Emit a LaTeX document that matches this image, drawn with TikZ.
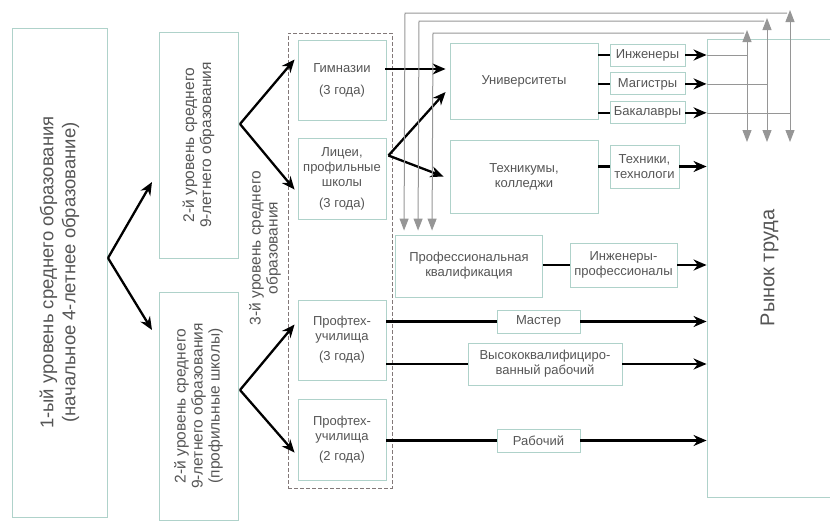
\documentclass[tikz,border=0pt]{standalone}
\usepackage{fontspec}
\setmainfont{Liberation Sans}
\usepackage{tikz}
\usetikzlibrary{arrows.meta, positioning, calc}
\definecolor{boxline}{RGB}{175,210,202}
\definecolor{txt}{RGB}{85,85,85}
\definecolor{feedgray}{RGB}{150,150,150}
\definecolor{framegray}{RGB}{130,120,120}
\tikzset{
  module/.style={rectangle, draw=boxline, line width=0.9pt, text=txt, align=center, inner sep=2pt, font=\fontsize{13}{15}\selectfont},
  levelbox/.style={module, rotate=90, font=\fontsize{15.5}{17}\selectfont},
  dashframe/.style={rectangle, draw=framegray, line width=1pt, dash pattern=on 4pt off 2pt},
  arrow/.style={line width=2.3pt, -{Stealth[length=13pt,width=11pt]}},
  stub/.style={line width=2.3pt},
  feedarrow/.style={draw=feedgray, line width=1pt, -{Triangle[length=12pt,width=9pt]}},
  feedboth/.style={draw=feedgray, line width=1pt, {Triangle[length=12pt,width=9pt]}-{Triangle[length=12pt,width=9pt]}},
  feedline/.style={draw=feedgray, line width=0.6pt}
}

\begin{document}
\begin{tikzpicture}[x=1pt, y=-1pt]
\useasboundingbox (0,0) rectangle (830,523);
% levels of school education
\node[levelbox, font=\fontsize{18.5}{22}\selectfont, minimum width=489pt, minimum height=95pt] (lev1) at (59.5,272.5) {1-ый уровень среднего образования\\(начальное 4-летнее образование)};
\node[levelbox, minimum width=226pt, minimum height=79pt] (lev2a) at (198.5,145) {2-й уровень среднего\\9-летнего образования};
\node[levelbox, minimum width=228pt, minimum height=79pt] (lev2b) at (198.5,406) {2-й уровень среднего\\9-летнего образования\\(профильные школы)};
\node[rotate=90, text=txt, align=center, font=\fontsize{15.5}{17}\selectfont] (lev3) at (265,248) {3-й уровень среднего\\образования};
\node[dashframe, minimum width=104pt, minimum height=455pt] (frm) at (340,260.5) {};

\node[module, minimum width=88pt, minimum height=80pt] (gym) at (342,80) {Гимназии\\[7pt](3 года)};
\node[module, minimum width=88pt, minimum height=81pt] (lyc) at (342,178.5) {Лицеи,\\профильные\\школы\\[6pt](3 года)};
\node[module, minimum width=88pt, minimum height=80pt] (pt3) at (342,340) {Профтех-\\училища\\[5pt](3 года)};
\node[module, minimum width=88pt, minimum height=81pt] (pt2) at (342,439.5) {Профтех-\\училища\\[5pt](2 года)};

% higher and vocational education
\node[module, minimum width=148pt, minimum height=76pt] (uni) at (524,81) {Университеты};
\node[module, minimum width=148pt, minimum height=73pt] (tec) at (524,176.5) {Техникумы,\\колледжи};
\node[module, minimum width=147pt, minimum height=62pt] (pq) at (469,266) {Профессиональная\\квалификация};

\node[module, minimum width=75pt, minimum height=22pt] (eng) at (647.5,55) {Инженеры};
\node[module, minimum width=75pt, minimum height=22pt, below=6pt of eng] (mag) {Магистры};
\node[module, minimum width=75pt, minimum height=22pt, below=6pt of mag] (bak) {Бакалавры};
\node[module, minimum width=69pt, minimum height=43pt] (tex) at (644.5,166.5) {Техники,\\технологи};
\node[module, minimum width=107pt, minimum height=44pt] (ipr) at (623.5,265) {Инженеры-\\профессионалы};
\node[module, minimum width=83pt, minimum height=23pt] (mas) at (538.5,321.5) {Мастер};
\node[module, minimum width=154pt, minimum height=42pt] (hqw) at (545,364) {Высококвалифициро-\\ванный рабочий};
\node[module, minimum width=83pt, minimum height=23pt] (wor) at (538.5,440.5) {Рабочий};

\node[module, minimum width=125pt, minimum height=458pt, label={[rotate=90, text=txt, font=\fontsize{20}{24}\selectfont]center:Рынок труда}] (mkt) at (769.5,268) {};

% forks
\coordinate (f1) at (108,258);
\coordinate (in2a) at (152,182);
\coordinate (in2b) at (152,330);
\coordinate (f2) at (240,124);
\coordinate (f3) at (240,390);
\draw[arrow] (f1) -- (in2a);
\draw[arrow] (f1) -- (in2b);
\draw[arrow] (f2) -- ($(gym.north west)+(-3,20)$);
\draw[arrow] (f2) -- ($(lyc.north west)+(-3,52)$);
\draw[arrow] (f3) -- ($(pt3.north west)+(-3,25)$);
\draw[arrow] (f3) -- ($(pt2.north west)+(-3,54)$);

\draw[arrow] ($(gym.east)+(-1,-11)$) -- ($(uni.west)+(-4,-12)$);
\coordinate (f4) at ($(lyc.east)+(2,-23)$);
\draw[arrow] (f4) -- ($(uni.west)+(-4,11)$);
\draw[arrow] (f4) -- ($(tec.west)+(-6,0)$);

\draw[stub] (uni.east |- eng) -- (eng.west);
\draw[stub] (uni.east |- mag) -- (mag.west);
\draw[stub] (uni.east |- bak) -- (bak.west);
\draw[stub] (tec.east |- tex) -- (tex.west);
\draw[stub] (pq.east |- ipr) -- (ipr.west);
\draw[stub] (pt3.east |- mas) -- (mas.west);
\draw[stub] (pt3.east |- hqw) -- (hqw.west);
\draw[stub] (pt2.east |- wor) -- (wor.west);

\draw[arrow] (eng.east) -- (eng.east -| mkt.west);
\draw[arrow] (mag.east) -- (mag.east -| mkt.west);
\draw[arrow] (bak.east) -- (bak.east -| mkt.west);
\draw[arrow] (tex.east) -- (tex.east -| mkt.west);
\draw[arrow] (ipr.east) -- (ipr.east -| mkt.west);
\draw[arrow] (mas.east) -- (mas.east -| mkt.west);
\draw[arrow] (hqw.east) -- (hqw.east -| mkt.west);
\draw[arrow] (wor.east) -- (wor.east -| mkt.west);

% feedback from the labour market
\coordinate (up1) at (747,30);
\coordinate (dn1) at (747,142);
\coordinate (up2) at (767,18);
\coordinate (dn2) at (767,142);
\coordinate (up3) at (790,10);
\coordinate (dn3) at (790,142);
\draw[feedline] (eng.east -| mkt.west) -- (eng.east -| dn1);
\draw[feedline] (mag.east -| mkt.west) -- (mag.east -| dn2);
\draw[feedline] (bak.east -| mkt.west) -- (bak.east -| dn3);
\draw[feedboth] (dn1) -- (up1);
\draw[feedboth] (dn2) -- (up2);
\draw[feedboth] (dn3) -- (up3);
\draw[feedarrow] ($(up1)+(-3,3)$) -- (433,33) -- ($(pq.north west)+(37,-4)$);
\draw[feedarrow] ($(up2)+(-3,3)$) -- (419,21) -- ($(pq.north west)+(23,-4)$);
\draw[feedarrow] ($(up3)+(-3,3)$) -- (405,13) -- ($(pq.north west)+(9,-4)$);
\end{tikzpicture}
\end{document}
